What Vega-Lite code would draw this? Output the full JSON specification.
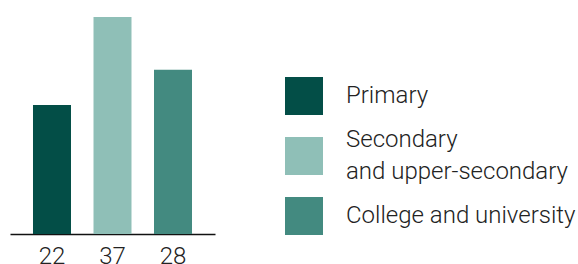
{
  "$schema": "https://vega.github.io/schema/vega-lite/v6.json",
  "autosize": {"type": "pad"},
  "padding": {"left": 10, "top": 17, "right": 0, "bottom": 0},
  "background": "white",
  "config": {
    "view": {"stroke": null},
    "font": "Roboto",
    "concat": {"spacing": 70}
  },
  "data": {
    "values": [
      {"category": "Primary", "name": "Primary", "label": "22", "value": 22},
      {"category": "Secondary and upper-secondary", "name": "Secondary\nand upper-secondary", "label": "37", "value": 37},
      {"category": "College and university", "name": "College and university", "label": "28", "value": 28}
    ]
  },
  "hconcat": [
    {
      "width": 205,
      "height": 217,
      "mark": {"type": "bar", "width": 38},
      "encoding": {
        "x": {
          "field": "label",
          "type": "nominal",
          "sort": null,
          "scale": {"paddingInner": 0.372, "paddingOuter": 0.38},
          "axis": {
            "title": null,
            "ticks": false,
            "labelAngle": 0,
            "labelFontSize": 24,
            "labelFontWeight": 300,
            "labelColor": "#222222",
            "labelPadding": 10,
            "domainColor": "#111111",
            "domainWidth": 1.3
          }
        },
        "y": {
          "field": "value",
          "type": "quantitative",
          "scale": {"domain": [0, 37], "nice": false},
          "axis": null
        },
        "color": {
          "field": "category",
          "type": "nominal",
          "sort": null,
          "scale": {
            "domain": ["Primary", "Secondary and upper-secondary", "College and university"],
            "range": ["#034e47", "#8fbfb7", "#438a80"]
          },
          "legend": null
        }
      }
    },
    {
      "width": 38,
      "height": 217,
      "encoding": {
        "y": {
          "field": "category",
          "type": "nominal",
          "sort": null,
          "scale": {"type": "point", "range": [79, 199], "padding": 0},
          "axis": null
        }
      },
      "layer": [
        {
          "mark": {"type": "point", "shape": "square", "size": 1444, "filled": true, "opacity": 1, "strokeWidth": 0},
          "encoding": {
            "color": {
              "field": "category",
              "type": "nominal",
              "sort": null,
              "scale": {
                "domain": ["Primary", "Secondary and upper-secondary", "College and university"],
                "range": ["#034e47", "#8fbfb7", "#438a80"]
              },
              "legend": null
            }
          }
        },
        {
          "transform": [{"filter": "indexof(datum.name, '\\n') < 0"}],
          "mark": {"type": "text", "align": "left", "baseline": "middle", "dx": 42, "fontSize": 24, "fontWeight": 300, "color": "#222222", "limit": 400},
          "encoding": {
            "text": {"field": "name", "type": "nominal"}
          }
        },
        {
          "transform": [{"filter": "indexof(datum.name, '\\n') >= 0"}],
          "mark": {"type": "text", "align": "left", "baseline": "middle", "dx": 42, "dy": -16, "fontSize": 24, "fontWeight": 300, "color": "#222222", "lineBreak": "\n", "lineHeight": 32, "limit": 400},
          "encoding": {
            "text": {"field": "name", "type": "nominal"}
          }
        }
      ]
    }
  ]
}
